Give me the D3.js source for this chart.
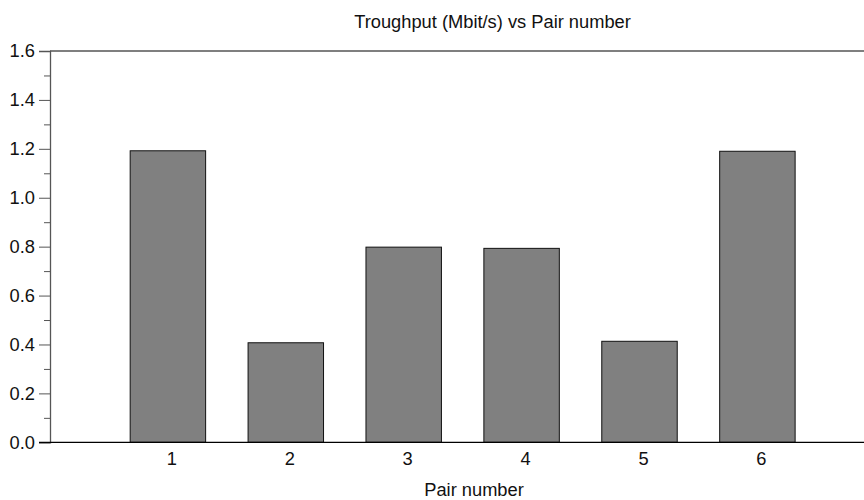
<!DOCTYPE html>
<html>
<head>
<meta charset="utf-8">
<script src="https://cdn.jsdelivr.net/npm/d3@7"></script>
<style>
  html, body { margin: 0; padding: 0; background: #fff; }
  svg { display: block; font-family: "Liberation Sans", Arial, sans-serif; }
</style>
</head>
<body>
<svg id="chart" width="864" height="500"></svg>
<script>
const pairs = [1, 2, 3, 4, 5, 6];
const throughput = [1.192, 0.407, 0.798, 0.793, 0.413, 1.19];
const yTicks = [0, 0.2, 0.4, 0.6, 0.8, 1.0, 1.2, 1.4, 1.6];
const yMinorTicks = [0.1, 0.3, 0.5, 0.7, 0.9, 1.1, 1.3, 1.5];
const title = "Troughput (Mbit/s) vs Pair number";
const xLabel = "Pair number";

(function () {
const svg = d3.select("#chart");
const W = 864, H = 500;
const mLeft = 50, mTop = 51, mBottom = 442.3;
const fs = 18.3;

const x = d3.scaleLinear().domain([0, 7]).range([mLeft, mLeft + 7 * 117.9]);
const y = d3.scaleLinear().domain([0, 1.6]).range([mBottom, mTop]);
const barW = x(0.64) - x(0);

// top frame line
svg.append("line")
  .attr("x1", mLeft).attr("x2", W)
  .attr("y1", y(1.6)).attr("y2", y(1.6))
  .attr("stroke", "#555").attr("stroke-width", 1.3);

// bars
svg.append("g").selectAll("rect")
  .data(pairs)
  .join("rect")
  .attr("x", (d) => x(d) - barW / 2)
  .attr("width", barW)
  .attr("y", (d, i) => y(throughput[i]))
  .attr("height", (d, i) => y(0) - y(throughput[i]))
  .attr("fill", "#808080")
  .attr("stroke", "#111")
  .attr("stroke-width", 1);

// y axis
const yAxis = d3.axisLeft(y).tickValues(yTicks).tickFormat(d3.format(".1f")).tickSize(11).tickPadding(4);
const gy = svg.append("g").attr("transform", `translate(${mLeft},0)`).call(yAxis);
gy.select(".domain").attr("stroke", "#555").attr("stroke-width", 1.3);
gy.selectAll(".tick line").attr("stroke", "#555");
gy.selectAll(".tick text").attr("font-size", fs).attr("fill", "#111").attr("font-family", "Liberation Sans, Arial, sans-serif");

const yMinor = d3.axisLeft(y).tickValues(yMinorTicks).tickSize(6).tickFormat("");
const gym = svg.append("g").attr("transform", `translate(${mLeft},0)`).call(yMinor);
gym.select(".domain").remove();
gym.selectAll(".tick line").attr("stroke", "#555");

// x axis baseline
svg.append("line")
  .attr("x1", mLeft - 11).attr("x2", W)
  .attr("y1", y(0)).attr("y2", y(0))
  .attr("stroke", "#000").attr("stroke-width", 1.3);

// x tick labels
svg.append("g").selectAll("text")
  .data(pairs)
  .join("text")
  .attr("x", (d) => x(d) + 4)
  .attr("y", 465)
  .attr("text-anchor", "middle")
  .attr("font-size", fs)
  .attr("fill", "#111")
  .text((d) => d);

// title
svg.append("text")
  .attr("x", 492.5).attr("y", 28)
  .attr("text-anchor", "middle")
  .attr("font-size", fs)
  .attr("fill", "#111")
  .text(title);

// x label
svg.append("text")
  .attr("x", 474).attr("y", 496)
  .attr("text-anchor", "middle")
  .attr("font-size", fs)
  .attr("fill", "#111")
  .text(xLabel);
})();
</script>
</body>
</html>
